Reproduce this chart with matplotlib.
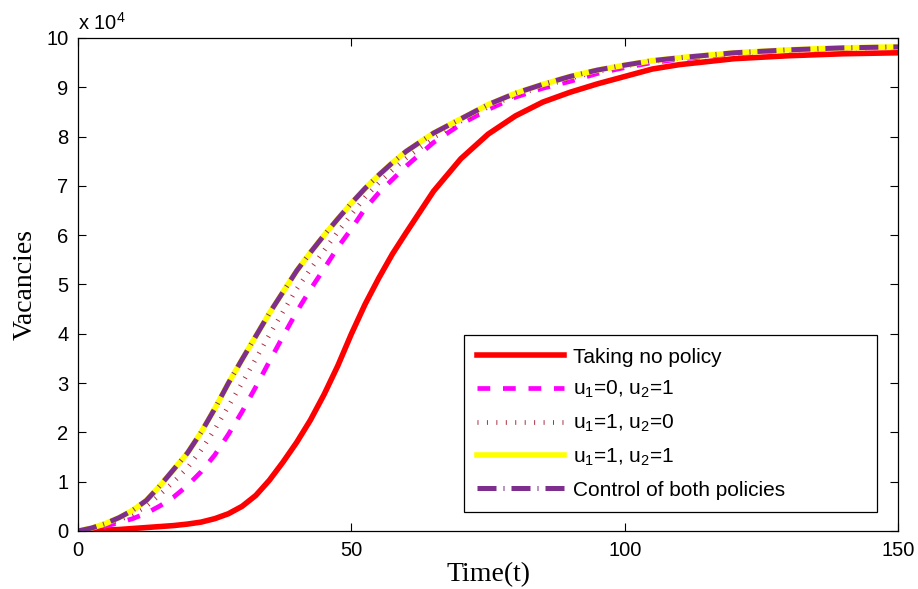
import matplotlib
matplotlib.use("Agg")
import matplotlib.pyplot as plt

# time points
t = [0, 2.5, 5, 7.5, 10, 12.5, 15, 17.5, 20, 22.5, 25, 27.5, 30, 32.5, 35,
     37.5, 40, 42.5, 45, 47.5, 50, 52.5, 55, 57.5, 60, 65, 70, 75, 80, 85,
     90, 95, 100, 105, 110, 120, 130, 140, 150]

# vacancies, in units of 10^4
no_policy = [0, 0.01, 0.02, 0.03, 0.05, 0.07, 0.09, 0.11, 0.14, 0.18, 0.25,
             0.35, 0.50, 0.72, 1.03, 1.40, 1.80, 2.25, 2.77, 3.35, 4.00,
             4.60, 5.13, 5.62, 6.05, 6.89, 7.55, 8.05, 8.42, 8.70, 8.90,
             9.07, 9.22, 9.37, 9.46, 9.58, 9.64, 9.68, 9.70]
u1_0_u2_1 = [0, 0.04, 0.10, 0.17, 0.25, 0.36, 0.51, 0.69, 0.92, 1.20, 1.54,
             1.96, 2.42, 2.92, 3.44, 3.95, 4.45, 4.90, 5.32, 5.75, 6.13,
             6.54, 6.86, 7.13, 7.40, 7.88, 8.25, 8.55, 8.80, 8.98, 9.12,
             9.28, 9.40, 9.50, 9.57, 9.68, 9.75, 9.79, 9.81]
u1_1_u2_0 = [0, 0.05, 0.13, 0.22, 0.34, 0.50, 0.74, 1.00, 1.28, 1.64, 2.06,
             2.53, 3.00, 3.49, 3.98, 4.45, 4.91, 5.31, 5.69, 6.07, 6.42,
             6.77, 7.06, 7.32, 7.56, 7.98, 8.31, 8.60, 8.84, 9.02, 9.18,
             9.32, 9.43, 9.52, 9.59, 9.69, 9.75, 9.79, 9.81]
u1_1_u2_1 = [0, 0.06, 0.15, 0.27, 0.42, 0.62, 0.92, 1.25, 1.58, 2.00, 2.48,
             3.00, 3.48, 3.95, 4.42, 4.85, 5.28, 5.65, 6.00, 6.33, 6.65,
             6.95, 7.22, 7.47, 7.70, 8.07, 8.36, 8.65, 8.88, 9.06, 9.22,
             9.35, 9.45, 9.54, 9.60, 9.70, 9.76, 9.80, 9.82]
both_control = [0, 0.06, 0.15, 0.27, 0.42, 0.62, 0.92, 1.25, 1.58, 2.00, 2.48,
                3.00, 3.48, 3.95, 4.42, 4.85, 5.28, 5.65, 6.00, 6.33, 6.65,
                6.95, 7.22, 7.47, 7.70, 8.07, 8.36, 8.65, 8.88, 9.06, 9.22,
                9.35, 9.45, 9.54, 9.60, 9.70, 9.76, 9.80, 9.82]

plt.rcParams["font.family"] = ["Liberation Sans", "DejaVu Sans"]
plt.rcParams["mathtext.default"] = "regular"
plt.rcParams["lines.solid_joinstyle"] = "round"
plt.rcParams["lines.dash_joinstyle"] = "round"

fig = plt.figure(figsize=(9.18, 5.89), dpi=100)
ax = fig.add_axes([0.085, 0.0985, 0.8935, 0.837])

ax.plot(t, no_policy, color="#ff0000", lw=4, label="Taking no policy")
ax.plot(t, u1_0_u2_1, color="#ff00ff", lw=3.4, dashes=(2.7, 2.7),
        label="u$_1$=0, u$_2$=1")
ax.plot(t, u1_1_u2_0, color="#a8283c", lw=3.4, dashes=(0.2, 1.8),
        label="u$_1$=1, u$_2$=0")
ax.plot(t, u1_1_u2_1, color="#ffff00", lw=4, label="u$_1$=1, u$_2$=1")
ax.plot(t, both_control, color="#7e2f8e", lw=3.6, dashes=(3.8, 1.4, 0.2, 1.4),
        label="Control of both policies")

ax.set_xlim(0, 150)
ax.set_ylim(0, 10)
ax.set_xticks([0, 50, 100, 150])
ax.set_yticks(range(0, 11))
ax.tick_params(direction="in", length=6, width=0.8, labelsize=14.5,
               top=True, right=True, pad=7)
for s in ax.spines.values():
    s.set_linewidth(0.9)

ax.text(0, 1.008, "x 10$^4$", transform=ax.transAxes, fontsize=14.5,
        ha="left", va="bottom")

ax.set_xlabel("Time(t)", fontsize=20, family="Liberation Serif", labelpad=2)
ax.set_ylabel("Vacancies", fontsize=20, family="Liberation Serif", labelpad=6)

leg = ax.legend(loc="lower left", bbox_to_anchor=(0.4707, 0.0385, 0.5037, 0.355),
                mode="expand", borderaxespad=0, fontsize=15, handlelength=4.2,
                labelspacing=0.6, fancybox=False, framealpha=1,
                edgecolor="black", borderpad=0.6, handletextpad=0.45)
leg.get_frame().set_linewidth(0.9)

fig.savefig("out.png", dpi=100)
